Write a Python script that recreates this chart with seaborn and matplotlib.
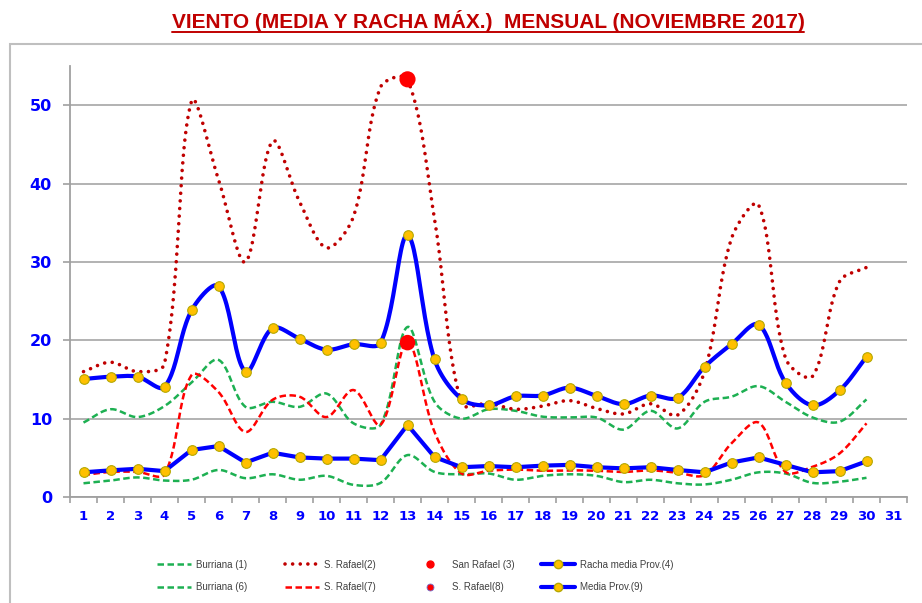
import numpy as np
import pandas as pd
import matplotlib
matplotlib.use("Agg")
import matplotlib.pyplot as plt
import seaborn as sns
from matplotlib.lines import Line2D
from matplotlib.patches import Rectangle

# --- datos ---
dias = list(range(1, 32))
dias_datos = list(range(1, 31))

burriana_racha = [9.5, 11.2, 10.2, 11.6, 14.6, 17.5, 11.5, 12.15, 11.5, 13.2, 9.4, 9.2, 21.7, 12.15, 10.0,
                  11.2, 11.0, 10.25, 10.15, 10.15, 8.6, 11.0, 8.75, 12.15, 12.8, 14.15, 12.15, 10.15, 9.6, 12.45]
rafael_racha = [16.0, 17.2, 16.0, 17.0, 50.5, 40.5, 30.0, 45.4, 37.7, 31.8, 35.8, 52.3, 53.3, 35.5, 11.9,
                11.95, 11.2, 11.6, 12.3, 11.3, 10.6, 11.9, 10.45, 16.0, 33.0, 37.3, 17.7, 15.4, 27.5, 29.3]
racha_media_prov = [15.05, 15.35, 15.35, 14.05, 23.8, 26.9, 16.0, 21.55, 20.2, 18.8, 19.5, 19.65, 33.4, 17.55, 12.5,
                    11.7, 12.85, 12.95, 13.95, 12.9, 11.85, 12.95, 12.65, 16.6, 19.5, 22.0, 14.6, 11.7, 13.6, 17.9]
burriana_media = [1.75, 2.1, 2.5, 2.1, 2.2, 3.45, 2.4, 2.9, 2.2, 2.7, 1.55, 1.8, 5.35, 3.2, 2.9,
                  3.0, 2.2, 2.7, 2.9, 2.7, 1.9, 2.2, 1.75, 1.6, 2.2, 3.15, 3.0, 1.8, 1.95, 2.45]
rafael_media = [2.8, 3.2, 3.2, 2.9, 15.55, 13.4, 8.3, 12.4, 12.8, 10.2, 13.65, 9.2, 19.8, 8.3, 3.0,
                3.35, 3.5, 3.35, 3.4, 3.35, 3.2, 3.4, 3.1, 2.8, 6.85, 9.5, 3.2, 3.85, 5.55, 9.4]
media_prov = [3.15, 3.4, 3.6, 3.3, 6.0, 6.5, 4.4, 5.65, 5.05, 4.9, 4.9, 4.7, 9.2, 5.1, 3.8,
              3.95, 3.8, 4.0, 4.1, 3.8, 3.65, 3.8, 3.45, 3.15, 4.4, 5.05, 4.1, 3.15, 3.3, 4.55]
san_rafael_max_dia = [13]
san_rafael_max = [53.3]
rafael_media_max_dia = [13]
rafael_media_max = [19.7]

PX_DIA = 26.93   # px por día
PX_UNI = 7.84    # px por unidad en y


def suavizar(vals, n=24):
    # línea suavizada tipo Excel (bezier con tangentes ponderadas)
    p = np.column_stack([np.arange(1, len(vals) + 1) * PX_DIA, np.asarray(vals) * PX_UNI])
    p = np.vstack([p[0], p, p[-1]])
    t = np.linspace(0, 1, n, endpoint=False)[:, None]
    out = []
    for i in range(1, len(p) - 2):
        p0, p1, p2, p3 = p[i - 1], p[i], p[i + 1], p[i + 2]
        d0, d1, d2 = np.linalg.norm(p1 - p0), np.linalg.norm(p2 - p1), np.linalg.norm(p3 - p2)
        c1 = p1 + (p2 - p0) * (d1 / (d0 + d1)) / 3
        c2 = p2 - (p3 - p1) * (d1 / (d1 + d2)) / 3
        out.append((1 - t) ** 3 * p1 + 3 * (1 - t) ** 2 * t * c1 + 3 * (1 - t) * t ** 2 * c2 + t ** 3 * p2)
    out.append(p[-2][None, :])
    out = np.vstack(out)
    return pd.DataFrame({"dia": out[:, 0] / PX_DIA, "v": out[:, 1] / PX_UNI})


sns.set_style("white")

fig = plt.figure(figsize=(9.22, 6.03), dpi=100)
ax = fig.add_axes([70 / 922, 1 - 497 / 603, (907 - 70) / 922, (497 - 66) / 603])

# marco exterior
fig.patches.append(Rectangle((10 / 922, -0.05), 1.0, 1 - 44 / 603 + 0.05, transform=fig.transFigure,
                             fill=False, edgecolor="#BFBFBF", linewidth=1.5))

VERDE = "#1DB052"
GRANATE = "#C00000"
ROJO = "#FF0000"
AZUL = "#0000FF"
ORO = "#FFC000"
BORDE_ORO = "#B5A800"

guion = (0, (2.6, 1.4))
puntos = (0, (0.01, 2.1))

sns.lineplot(data=suavizar(burriana_racha), x="dia", y="v", ax=ax, color=VERDE, linewidth=1.8,
             linestyle=guion, estimator=None, sort=False)
sns.lineplot(data=suavizar(rafael_racha), x="dia", y="v", ax=ax, color=GRANATE, linewidth=2.6,
             linestyle=puntos, estimator=None, sort=False)
ax.lines[-1].set_dash_capstyle("round")
sns.lineplot(data=suavizar(burriana_media), x="dia", y="v", ax=ax, color=VERDE, linewidth=1.8,
             linestyle=guion, estimator=None, sort=False)
sns.lineplot(data=suavizar(rafael_media), x="dia", y="v", ax=ax, color=ROJO, linewidth=1.8,
             linestyle=guion, estimator=None, sort=False)

sns.lineplot(data=suavizar(racha_media_prov), x="dia", y="v", ax=ax, color=AZUL, linewidth=3.0,
             estimator=None, sort=False)
sns.scatterplot(x=dias_datos, y=racha_media_prov, ax=ax, s=48, color=ORO, edgecolor=BORDE_ORO,
                linewidth=0.8, zorder=5)

sns.lineplot(x=dias_datos, y=media_prov, ax=ax, color=AZUL, linewidth=3.0, marker="o", markersize=7,
             markerfacecolor=ORO, markeredgecolor=BORDE_ORO, markeredgewidth=0.8, estimator=None, sort=False)

sns.scatterplot(x=san_rafael_max_dia, y=san_rafael_max, ax=ax, s=135, color=ROJO, edgecolor="none", zorder=6)
sns.scatterplot(x=rafael_media_max_dia, y=rafael_media_max, ax=ax, s=125, color=ROJO, edgecolor="none", zorder=6)

# ejes
ax.set_xlim(0.5, 31.5)
ax.set_ylim(0, 55)
ax.set_xlabel("")
ax.set_ylabel("")
ax.set_yticks([0, 10, 20, 30, 40, 50])
ax.set_xticks(np.arange(0.5, 32, 1))
ax.set_xticklabels([])
ax.set_xticks(dias, minor=True)
ax.set_xticklabels([str(d) for d in dias], minor=True)
ax.tick_params(axis="x", which="major", direction="out", length=4, width=1.2, color="#A0A0A0", bottom=True)
ax.tick_params(axis="x", which="minor", length=0, pad=9, labelsize=9.5, labelcolor=AZUL)
ax.tick_params(axis="y", direction="out", length=5, width=1.2, color="#A0A0A0", left=True, pad=8,
               labelsize=11.5, labelcolor=AZUL)
for lab in ax.get_xticklabels(minor=True) + ax.get_yticklabels():
    lab.set_fontweight("bold")
    lab.set_family("DejaVu Sans")

ax.yaxis.grid(True, color="#A6A6A6", linewidth=1.2)
ax.set_axisbelow(True)
for s in ["top", "right"]:
    ax.spines[s].set_visible(False)
for s in ["left", "bottom"]:
    ax.spines[s].set_color("#A0A0A0")
    ax.spines[s].set_linewidth(1.3)

# título subrayado
titulo = fig.text(488 / 922, 1 - 27.5 / 603, "VIENTO (MEDIA Y RACHA MÁX.)  MENSUAL (NOVIEMBRE 2017)",
                  ha="center", va="baseline", color=GRANATE, fontsize=15, fontweight="bold",
                  family="Liberation Sans")
fig.canvas.draw()
bb = titulo.get_window_extent(fig.canvas.get_renderer())
fig.add_artist(Line2D([bb.x0 / 922, bb.x1 / 922], [1 - 31.5 / 603] * 2, transform=fig.transFigure,
                      color=GRANATE, linewidth=1.4))

# leyenda en 4 columnas
def h_linea(color, lw, ls, cap="butt"):
    return Line2D([], [], color=color, linewidth=lw, linestyle=ls, dash_capstyle=cap)


columnas = [
    ([h_linea(VERDE, 1.8, guion), h_linea(VERDE, 1.8, guion)], ["Burriana (1)", "Burriana (6)"], 157),
    ([h_linea(GRANATE, 2.6, puntos, "round"), h_linea(ROJO, 1.8, guion)], ["S. Rafael(2)", "S. Rafael(7)"], 285),
    ([Line2D([], [], linestyle="none", marker="o", markersize=5, color=ROJO),
      Line2D([], [], linestyle="none", marker="o", markersize=5, markerfacecolor=ROJO,
             markeredgecolor="#7070D0", markeredgewidth=0.6)], ["San Rafael (3)", "S. Rafael(8)"], 413),
    ([Line2D([], [], color=AZUL, linewidth=3.0, marker="o", markersize=6, markerfacecolor=ORO,
             markeredgecolor=BORDE_ORO),
      Line2D([], [], color=AZUL, linewidth=3.0, marker="o", markersize=6, markerfacecolor=ORO,
             markeredgecolor=BORDE_ORO)], ["Racha media Prov.(4)", "Media Prov.(9)"], 541),
]
for handles, labels, x0 in columnas:
    fig.legend(handles, labels, loc="center left", bbox_to_anchor=(x0 / 922, 1 - 576 / 603),
               frameon=False, borderpad=0, borderaxespad=0, handlelength=3.5, handletextpad=0.5,
               labelspacing=1.3, prop={"family": "Liberation Sans", "size": 7}, labelcolor="#404040")

fig.savefig("out.png", dpi=100)
